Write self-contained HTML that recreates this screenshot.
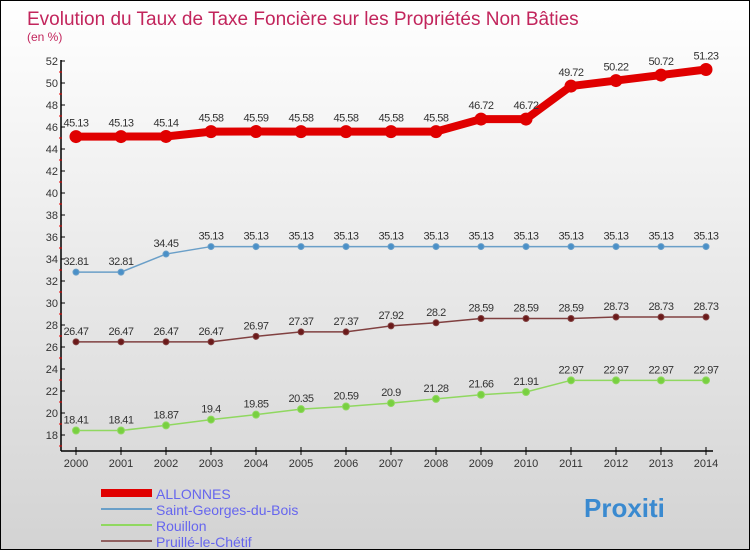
<!DOCTYPE html>
<html><head><meta charset="utf-8"><style>
body{margin:0}
#c{width:748px;height:548px;border:1px solid #000;background:linear-gradient(#ffffff,#f2f2f2 30%,#d3d3d3);position:relative;overflow:hidden;font-family:"Liberation Sans",sans-serif}
</style></head><body>
<div id="c">
<svg id="s" width="748" height="548"></svg>
</div>
<script>
const years=["2000","2001","2002","2003","2004","2005","2006","2007","2008","2009","2010","2011","2012","2013","2014"];
const allonnes=[45.13,45.13,45.14,45.58,45.59,45.58,45.58,45.58,45.58,46.72,46.72,49.72,50.22,50.72,51.23];
const saintGeorges=[32.81,32.81,34.45,35.13,35.13,35.13,35.13,35.13,35.13,35.13,35.13,35.13,35.13,35.13,35.13];
const rouillon=[18.41,18.41,18.87,19.4,19.85,20.35,20.59,20.9,21.28,21.66,21.91,22.97,22.97,22.97,22.97];
const pruille=[26.47,26.47,26.47,26.47,26.97,27.37,27.37,27.92,28.2,28.59,28.59,28.59,28.73,28.73,28.73];
const yTicks=[18,20,22,24,26,28,30,32,34,36,38,40,42,44,46,48,50,52];
const s=document.getElementById('s');const NS="http://www.w3.org/2000/svg";
function x(i){return 75+i*45;}
function y(v){return 434-(v-18)*11;}
function mk(t,a,txt){const e=document.createElementNS(NS,t);for(const k in a)e.setAttribute(k,a[k]);if(txt!==undefined)e.textContent=txt;s.appendChild(e);return e;}
let e;
e=mk('text',{x:26,y:24,'font-size':19,fill:'#c2255c'},'Evolution du Taux de Taxe Foncière sur les Propriétés Non Bâties');


e=mk('text',{x:26,y:40,'font-size':12,fill:'#c2255c'},'(en %)');


e=mk('line',{x1:60,y1:59,x2:60,y2:450,stroke:'#000','stroke-width':1.5});


e=mk('line',{x1:60,y1:450,x2:712,y2:450,stroke:'#000','stroke-width':1.5});


yTicks.forEach(v=>{
 mk('line',{x1:60,y1:y(v),x2:64,y2:y(v),stroke:'#000'});
 mk('line',{x1:58,y1:y(v)+11,x2:61,y2:y(v)+11,stroke:'#e00'});
 e=mk('text',{x:57,y:y(v)+4,'font-size':11,fill:'#333','text-anchor':'end'},String(v));
 
 
});
years.forEach((yr,i)=>{
 mk('line',{x1:x(i),y1:446,x2:x(i),y2:454,stroke:'#000'});
 e=mk('text',{x:x(i),y:466,'font-size':11,fill:'#333','text-anchor':'middle'},yr);
 
 
});
function series(arr,name,col,w,r,fillc){
 const pts=arr.map((v,i)=>x(i)+','+y(v)).join(' ');
 e=mk('polyline',{points:pts,fill:'none',stroke:col,'stroke-width':w});
 
 
 arr.forEach((v,i)=>{
  e=mk('circle',{cx:x(i),cy:y(v),r:r,fill:fillc,stroke:col,'stroke-width':1});
  
  
  e=mk('text',{x:x(i),y:y(v)-7-(r>4?3:0),'font-size':11,fill:'#333','text-anchor':'middle','letter-spacing':'-0.5'},String(v));
  
  
 });
}
series(allonnes,'allonnes','#e00000',8,6,'#e00000');
series(saintGeorges,'saint-georges','#6a9fc8',1.5,3,'#4a90c8');
series(pruille,'pruille','#804040',1.5,3,'#6b1a1a');
series(rouillon,'rouillon','#90d860',1.5,3.5,'#78d040');
const legend=[["ALLONNES","#e00000",8],["Saint-Georges-du-Bois","#6a9fc8",2],["Rouillon","#90d860",2],["Pruillé-le-Chétif","#906060",2]];
legend.forEach((l,i)=>{
 const yy=492+i*16;
 e=mk('line',{x1:100,y1:yy,x2:151,y2:yy,stroke:l[1],'stroke-width':l[2]});
 
 
 e=mk('text',{x:155,y:yy+6,'font-size':14,fill:'#6666ee'},l[0]);
 
 
});
e=mk('text',{x:583,y:516,'font-size':26,'font-weight':'bold',fill:'#3a8ad0'},'Proxiti');


</script>
</body></html>
